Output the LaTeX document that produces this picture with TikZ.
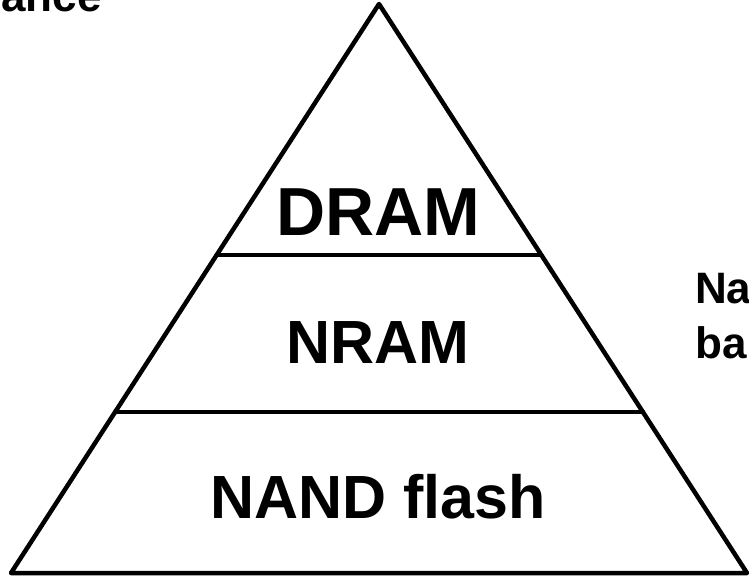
\documentclass[tikz,border=0pt]{standalone}
\usepackage{fontspec}
\setmainfont{Liberation Sans}
\usetikzlibrary{calc}
\begin{document}
\begin{tikzpicture}[x=1pt,y=-1pt,
  lbl/.style={font=\bfseries\fontsize{#1}{#1}\selectfont, inner sep=0pt, anchor=base},
  edge/.style={line width=4.5pt, line join=round, line cap=round}]
\useasboundingbox (0,0) rectangle (749,578);
\clip (0,0) rectangle (749,578);
\coordinate (apex) at (379,4);
\coordinate (bl) at (11,573);
\coordinate (br) at (747,573);
\draw[edge] (apex) -- (bl) -- (br) -- cycle;
\coordinate (l1) at ($(apex)!0.441!(bl)$);
\coordinate (r1) at ($(apex)!0.441!(br)$);
\coordinate (l2) at ($(apex)!0.717!(bl)$);
\coordinate (r2) at ($(apex)!0.717!(br)$);
\draw[edge] (l1) -- (r1);
\draw[edge] (l2) -- (r2);
\node[lbl=68] (dram) at (378,235) {DRAM};
\node[lbl=61] (nram) at (378,363) {NRAM};
\node[lbl=61] (nand) at (378,518) {NAND flash};
\node[lbl=44, anchor=base west] (na) at (695,303) {Na};
\node[lbl=44, anchor=base west] (ba) at (695,358) {ba};
\node[lbl=44, anchor=base east] (ance) at (102,12) {ance};
\end{tikzpicture}
\end{document}
